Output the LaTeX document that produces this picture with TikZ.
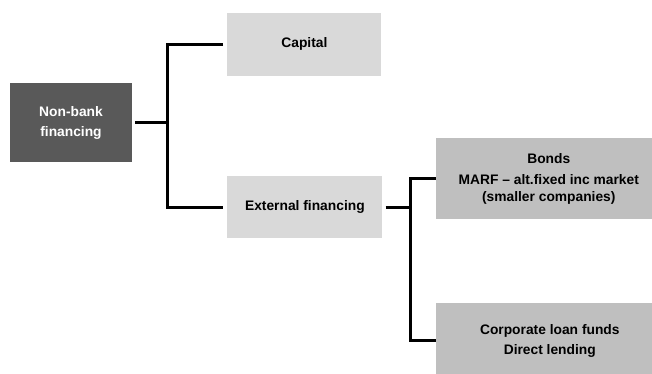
\documentclass[tikz,border=0pt]{standalone}
\usepackage{fontspec}
\setmainfont{Liberation Sans}
\usetikzlibrary{positioning}

\definecolor{darkfill}{HTML}{595959}
\definecolor{lightfill}{HTML}{D9D9D9}
\definecolor{midfill}{HTML}{BFBFBF}

\tikzset{
	box/.style={rectangle, inner sep=0pt, align=center,
		font=\bfseries\fontsize{13.8}{20}\selectfont},
	darkbox/.style={box, fill=darkfill, text=white},
	lightbox/.style={box, fill=lightfill},
	midbox/.style={box, fill=midfill},
	conn/.style={line width=3pt},
}

\begin{document}
\begin{tikzpicture}[x=1pt, y=-1pt]
	\useasboundingbox (0,0) rectangle (652,373);
	\node[darkbox, minimum width=122pt, minimum height=79pt] (nonbank) at (71,122.5) {Non-bank\\financing};
	\node[lightbox, minimum width=154pt, minimum height=63pt, above right=7pt and 95pt of nonbank] (capital) {Capital};
	\node[lightbox, minimum width=155pt, minimum height=62pt, below right=14pt and 95pt of nonbank] (external) {External financing};
	\node[midbox, minimum width=226pt, minimum height=81pt, right=53pt of external, yshift=28.5pt,
		font=\bfseries\fontsize{13.8}{17}\selectfont] (bonds) {Bonds\\[4pt]MARF -- alt.fixed inc market\\(smaller companies)};
	\node[midbox, minimum width=228pt, minimum height=76pt, below right=64pt and 53pt of external] (corporate) {Corporate loan funds\\Direct lending};
	% forks
	\coordinate[right=35pt of nonbank.east] (fork1);
	\coordinate[right=28pt of external.east] (fork2);
	\draw[conn, shorten <=3pt] (nonbank.east) -- (fork1);
	\draw[conn, shorten <=4pt, shorten >=4pt] (capital.west) -| (fork1) |- (external.west);
	\draw[conn, shorten <=3pt] (external.east) -- (fork2);
	\draw[conn] (bonds.west) -| (fork2) |- (corporate.west);
\end{tikzpicture}
\end{document}
